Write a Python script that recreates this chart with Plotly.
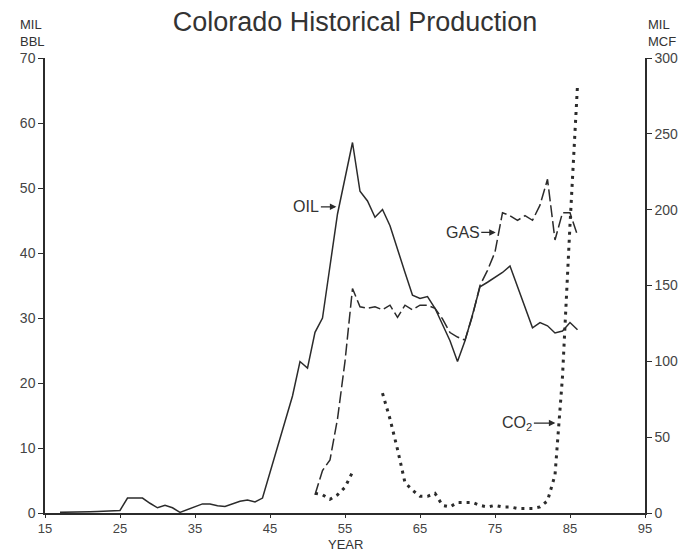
import plotly.graph_objects as go

# ---------------- data ----------------
oil_years = list(range(1917, 1987))
oil_values = [
    0.1, 0.1, 0.15, 0.2, 0.2, 0.25, 0.3, 0.3, 0.4,
    2.3, 2.3, 2.3, 1.5, 0.8, 1.2, 0.8, 0.1, 0.5, 0.9,
    1.4, 1.4, 1.1, 1.0, 1.4, 1.8, 2.0, 1.7, 2.3, 6.2,
    10.1, 14.0, 18.0, 23.3, 22.3, 27.8, 30.0, 38.0, 46.0, 51.5,
    57.0, 49.5, 48.0, 45.5, 46.7, 44.2, 40.5, 37.0, 33.5, 33.0,
    33.3, 31.5, 29.0, 26.5, 23.3, 26.5, 30.5, 34.8, 35.5, 36.3,
    37.0, 38.0, 34.8, 31.5, 28.5, 29.3, 28.8, 27.7, 28.0, 29.3, 28.2,
]

gas_years = list(range(1951, 1987))
gas_values = [
    12, 28, 35, 62, 100, 148, 136, 135, 136, 134,
    137, 129, 137, 134, 137, 137, 135, 128, 119, 116,
    114, 130, 150, 160, 172, 198, 196, 193, 196, 193,
    203, 220, 180, 198, 198, 183,
]

co2_years = list(range(1951, 1987))
co2_values = [
    13, 12, 9, 12, 17, 27, None, None, None, 79,
    62, 42, 20, 15, 11, 11, 13, 5, 4, 7,
    7, 7, 5, 4, 5, 4, 4, 3, 3, 3,
    4, 8, 25, 90, 190, 282,
]

x_ticks = list(range(15, 96, 10))
left_ticks = list(range(0, 71, 10))
right_ticks = list(range(0, 301, 50))

# ---------------- geometry ----------------
# page body has an 8px margin, so the figure starts at (8, 8) in the window
OFF = 8
W, H = 682, 544
PL, PR, PT, PB = 42, 656, 58, 513          # plot area in window pixels
L, R = PL - OFF, (W + OFF) - PR
T, B = PT - OFF, (H + OFF) - PB
PW, PH = PR - PL, PB - PT


def px(xv):
    return (xv - PL) / PW


def py(yv):
    return (PB - yv) / PH


INK = "#2b2b2b"
TXT = "#3a3a3a"
FONT = "Liberation Sans, Arial, Helvetica, sans-serif"

fig = go.Figure()

fig.add_trace(go.Scatter(
    x=[y - 1900 for y in oil_years], y=oil_values, mode="lines",
    line=dict(color=INK, width=1.5), name="OIL", yaxis="y",
))
fig.add_trace(go.Scatter(
    x=[y - 1900 for y in gas_years], y=gas_values, mode="lines",
    line=dict(color=INK, width=1.5, dash="12px,4px"), name="GAS", yaxis="y2",
))
fig.add_trace(go.Scatter(
    x=[y - 1900 for y in co2_years], y=co2_values, mode="lines",
    line=dict(color=INK, width=3, dash="3px,5px"), name="CO2", yaxis="y2",
    connectgaps=False,
))

axis_common = dict(
    showline=True, linecolor=INK, linewidth=1.5,
    ticks="outside", tickwidth=1.3, tickcolor=INK,
    showgrid=False, zeroline=False, fixedrange=True,
)
tick_font = dict(family=FONT, size=14, color="#444")

fig.update_layout(
    width=W, height=H,
    margin=dict(l=L, r=R, t=T, b=B, pad=0),
    paper_bgcolor="white", plot_bgcolor="white",
    showlegend=False,
    font=dict(family=FONT, color=TXT),
    title=dict(
        text="Colorado Historical Production",
        font=dict(family=FONT, size=27, color="#333"),
        x=(355 - OFF) / W, xanchor="center", xref="container",
        y=1 - (22 - OFF) / H, yanchor="middle", yref="container",
    ),
    xaxis=dict(range=[15, 95], tickvals=x_ticks, ticklen=3,
               ticktext=[str(t) for t in x_ticks],
               tickfont=dict(family=FONT, size=13, color="#444"), **axis_common),
    yaxis=dict(range=[0, 70], tickvals=left_ticks, ticklen=5,
               tickfont=tick_font, **axis_common),
    yaxis2=dict(range=[0, 300], tickvals=right_ticks, ticklen=5,
                tickfont=tick_font, overlaying="y", side="right", **axis_common),
)

ann = []
lab = dict(family=FONT, size=13, color="#333")
for text, xv, yv, xanchor, yanchor in [
    ("MIL<br>BBL", 15, 50, "left", "bottom"),
    ("MIL<br>MCF", 658, 50, "left", "bottom"),
    ("YEAR", 350, 553, "center", "bottom"),
]:
    ann.append(dict(text=text, xref="paper", yref="paper", x=px(xv), y=py(yv),
                    xanchor=xanchor, yanchor=yanchor, align="left",
                    showarrow=False, font=lab, borderpad=0))

arrow_font = dict(family=FONT, size=16, color="#333")
ann.append(dict(text="OIL", x=53.85, y=47.1, xref="x", yref="y",
                ax=-30, ay=0, showarrow=True, arrowhead=2, arrowsize=1,
                arrowwidth=1.3, arrowcolor=INK, font=arrow_font))
ann.append(dict(text="GAS", x=75.1, y=185, xref="x", yref="y2",
                ax=-33, ay=0, showarrow=True, arrowhead=2, arrowsize=1,
                arrowwidth=1.3, arrowcolor=INK, font=arrow_font))
ann.append(dict(text="CO<sub>2</sub>", x=83.05, y=59.3, xref="x", yref="y2",
                ax=-38, ay=0, showarrow=True, arrowhead=2, arrowsize=1,
                arrowwidth=1.3, arrowcolor=INK, font=arrow_font))

fig.update_layout(annotations=ann)

fig.write_html("out.html")
